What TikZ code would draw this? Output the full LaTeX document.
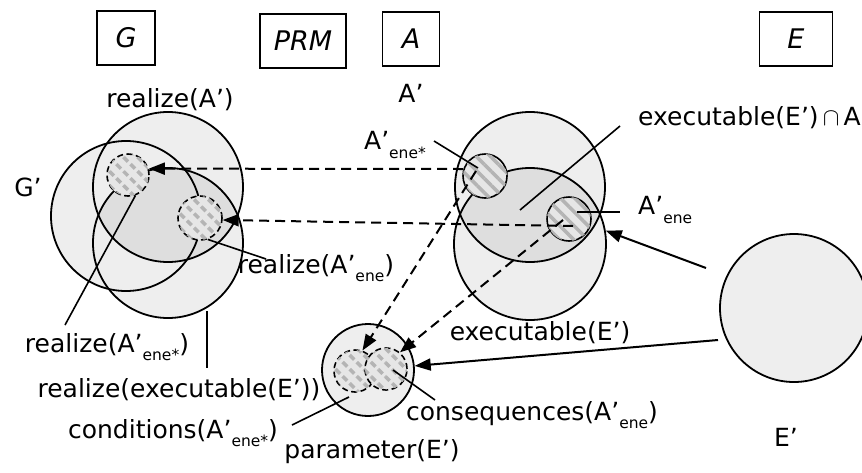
\documentclass[tikz,border=0pt]{standalone}
\usepackage{fontspec}
\setmainfont{DejaVu Sans}
\usetikzlibrary{arrows.meta,patterns.meta}
\definecolor{lightfill}{HTML}{EEEEEE}
\definecolor{darkfill}{HTML}{DEDEDE}
\definecolor{hatchbg}{HTML}{E6E6E6}
\definecolor{hatchfg}{HTML}{B4B4B4}
\newcommand\subx[1]{\raisebox{-0.34em}{\fontsize{15.5pt}{15.5pt}\selectfont #1}}
\begin{document}
\begin{tikzpicture}[x=1pt,y=-1pt,
  lbl/.style={font=\fontsize{25pt}{27pt}\selectfont, inner sep=0pt},
  boxlbl/.style={draw, line width=1.5pt, font=\fontsize{27pt}{29pt}\selectfont\itshape, minimum height=54pt, inner sep=0pt},
  bigc/.style={circle, draw, line width=1.8pt, minimum size=#1, inner sep=0pt},
  hatch/.style={circle, line width=1.6pt, minimum size=#1, inner sep=0pt, fill=hatchbg,
     postaction={pattern={Lines[angle=-45,distance=10pt,line width=3.5pt]}, pattern color=hatchfg}},
  dashc/.style={dash pattern=on 6pt off 3.5pt},
  leader/.style={line width=1.6pt},
  darr/.style={line width=2pt, dash pattern=on 10pt off 6pt, -{Triangle[length=16pt,width=12pt]}},
  sarr/.style={line width=2pt, -{Triangle[length=16pt,width=12pt]}},
]
\useasboundingbox (0,0) rectangle (862,472);
\begin{scope}
\clip (0,0) rectangle (862,472);

% ---- boxes
\node[boxlbl, minimum width=58pt] (bG) at (126,38) {G};
\node[boxlbl, minimum width=86pt] (bPRM) at (303,41) {PRM};
\node[boxlbl, minimum width=57pt] (bA) at (411,39) {A};
\node[boxlbl, minimum width=73pt] (bE) at (796,39) {E};

% ---- G region
\fill[lightfill] (168,187) circle (75);
\fill[lightfill] (126,216) circle (75);
\fill[lightfill] (168,243) circle (75);
\begin{scope}
  \clip (168,187) circle (75);
  \fill[darkfill] (168,243) circle (75);
\end{scope}
\node[bigc=150pt] (cRA) at (168,187) {};
\node[bigc=150pt] (cGp) at (126,216) {};
\node[bigc=150pt] (cRE) at (168,243) {};
\node[hatch=42pt, draw, dashc] (sRs) at (128,175) {};
\node[hatch=44pt, draw, dashc] (sRe) at (200,218) {};

% ---- A region
\fill[lightfill] (530,187) circle (75);
\fill[lightfill] (530,244) circle (76);
\begin{scope}
  \clip (530,187) circle (75);
  \fill[darkfill] (530,244) circle (76);
\end{scope}
\node[bigc=150pt] (cAp) at (530,187) {};
\node[bigc=152pt] (cEx) at (530,244) {};
\node[hatch=44pt, draw] (sAs) at (485,176) {};
\node[hatch=44pt, draw] (sAe) at (569,219) {};

% ---- PRM circle
\node[bigc=92pt, fill=lightfill] (cP) at (368,370) {};
\node[hatch=42pt, draw, dashc] (sC) at (355,371) {};
\node[hatch=42pt, draw, dashc] (sQ) at (386,369) {};

% ---- E' circle
\node[bigc=148pt, fill=lightfill] (cE) at (794,308) {};

% ---- labels
\node[lbl] (tRA) at (170,100) {realize(A')};
\node[lbl] (tAp) at (411,93) {A'};
\node[lbl, anchor=west] (tExA) at (638,118) {executable(E')$\,\cap\,$A'};
\node[lbl] (tGp) at (28,187) {G'};
\node[lbl] (tAs) at (395,145) {A'\subx{ene*}};
\node[lbl, anchor=west] (tAe) at (638,210) {A'\subx{ene}};
\node[lbl] (tRe) at (316,268) {realize(A'\subx{ene})};
\node[lbl] (tRs) at (107,347) {realize(A'\subx{ene*})};
\node[lbl] (tRX) at (179,390) {realize(executable(E'))};
\node[lbl] (tCo) at (173,433) {conditions(A'\subx{ene*})};
\node[lbl] (tPa) at (372,452) {parameter(E')};
\node[lbl] (tCq) at (532,415) {consequences(A'\subx{ene})};
\node[lbl] (tEx) at (540,333) {executable(E')};
\node[lbl] (tEp) at (786,437) {E'};

% ---- leaders
\coordinate (l1a) at (65,325);
\coordinate (l2a) at (266,259);
\coordinate (l3a) at (207,311);
\coordinate (l3b) at (207,368);
\coordinate (l4a) at (292,425);
\coordinate (l4b) at (349,397);
\coordinate (l5a) at (435,400);
\coordinate (l5b) at (393,370);
\coordinate (l6a) at (434,141);
\coordinate (l6b) at (478,168);
\coordinate (l7a) at (520,210);
\coordinate (l7b) at (620,126);
\coordinate (l8a) at (620,212);
\coordinate (l8b) at (577,212);
\draw[leader] (sRs.-70) -- (l1a);
\draw[leader] (sRe.-70) -- (l2a);
\draw[leader] (l3a) -- (l3b);
\draw[leader] (l4b) -- (l4a);
\draw[leader] (l5b) -- (l5a);
\draw[leader] (l6a) -- (l6b);
\draw[leader] (l7a) -- (l7b);
\draw[leader] (l8b) -- (l8a);

% ---- dashed arrows
\coordinate (d1) at (463,169);
\coordinate (d2) at (573,226);
\coordinate (d3) at (476,171);
\coordinate (d4) at (563,220);
\draw[darr] (d1) -- (sRs.17);
\draw[darr] (d2) -- (sRe.-5);
\draw[darr] (d3) -- (sC.70);
\draw[darr] (d4) -- (sQ.50);

% ---- solid arrows
\coordinate (s1) at (706,268);
\coordinate (s2) at (718,340);
\draw[sarr] (s1) -- (cEx.10);
\draw[sarr] (s2) -- (cP.5);
\end{scope}
\end{tikzpicture}
\end{document}
